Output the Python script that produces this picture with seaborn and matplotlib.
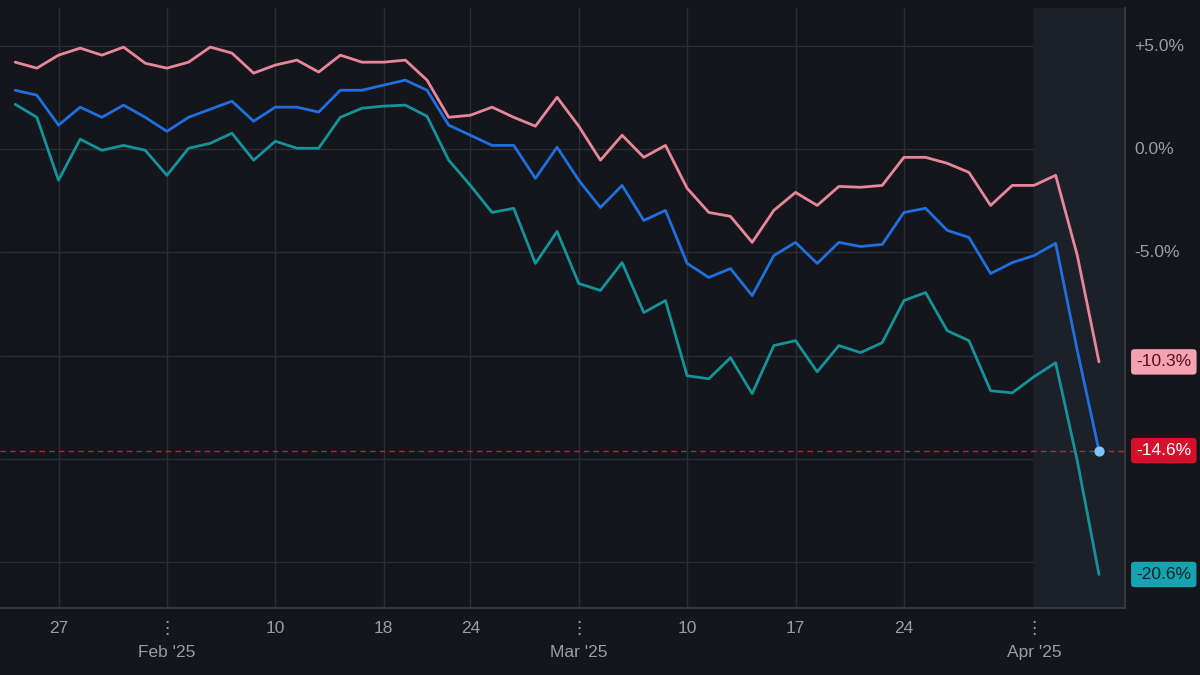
import numpy as np
import pandas as pd
import matplotlib
matplotlib.use("Agg")
import matplotlib.pyplot as plt
import seaborn as sns

# percent change values, one per trading day
pink = [62, 68, 55, 48, 55, 47, 63, 68, 62, 47, 53, 73, 65, 60, 72, 55, 62, 62, 60, 80,
        117, 115, 107, 117, 126, 97, 126, 160, 135, 157, 145, 188, 212, 216, 242, 210, 192, 205, 186, 187,
        185, 157, 157, 163, 172, 205, 185, 185, 175, 255, 360]
blue = [90, 95, 125, 107, 117, 105, 117, 131, 117, 109, 101, 121, 107, 107, 112, 90, 90, 85, 80, 90,
        125, 135, 145, 145, 178, 147, 180, 207, 185, 220, 210, 263, 277, 268, 295, 255, 242, 263, 242, 246,
        244, 212, 208, 230, 237, 273, 262, 255, 243, 350, 449]
teal = [104, 117, 180, 139, 150, 145, 150, 175, 148, 143, 133, 160, 141, 148, 148, 117, 108, 106, 105, 116,
        160, 185, 212, 208, 263, 231, 283, 290, 262, 312, 300, 375, 378, 357, 393, 345, 340, 371, 345, 352,
        342, 300, 292, 330, 340, 390, 392, 376, 362, 460, 570]
# pixel readings -> percent
pink = [round((149 - v) / 20.6, 2) for v in pink]
blue = [round((149 - v) / 20.6, 2) for v in blue]
teal = [round((149 - v) / 20.6, 2) for v in teal]
pink[-1], blue[-1], teal[-1] = -10.3, -14.6, -20.6

day_pos = [2, 7, 12, 17, 21, 26, 31, 36, 41, 47]
day_labels = ["27", "⋮", "10", "18", "24", "⋮", "10", "17", "24", "⋮"]
month_pos = [7, 26, 47]
month_labels = ["Feb '25", "Mar '25", "Apr '25"]
grid_y = [5, 0, -5, -10, -15, -20]
y_ticks = [5, 0, -5]
y_labels = ["+5.0%", "0.0%", "-5.0%"]

df = pd.DataFrame({"day": range(len(pink)), "pink": pink, "blue": blue, "teal": teal})
long = df.melt(id_vars="day", var_name="series", value_name="pct")

bg = "#14161b"
grid = "#2b2e35"
sns.set_theme(style="dark")
plt.rcParams["font.family"] = ["Liberation Sans", "DejaVu Sans"]

fig = plt.figure(figsize=(12, 6.75), dpi=100, facecolor=bg)
ax = fig.add_axes([0, 0.1, 0.9375, 0.888])
ax.set_facecolor(bg)

palette = {"pink": "#e8879a", "blue": "#1f6fe0", "teal": "#14939b"}
sns.lineplot(data=long, x="day", y="pct", hue="series", palette=palette,
             linewidth=2, legend=False, ax=ax)

ax.set_xlim(-0.7, 51.2)
ax.set_ylim(-22.2, 6.84)
for y in grid_y:
    ax.axhline(y, color=grid, lw=1, zorder=0)
for x in day_pos:
    ax.axvline(x, color=grid, lw=1, zorder=0)
ax.axvspan(47, 51.2, color="#1c2129", zorder=0)
ax.axhline(-14.6, color="#b0283a", lw=1, ls=(0, (4, 3)), zorder=1)
ax.scatter([len(blue) - 1], [blue[-1]], s=40, color="#7cc4ff", zorder=5)

ax.set_xticks([])
ax.set_yticks([])
ax.set_xlabel("")
ax.set_ylabel("")
for s in ["top", "left"]:
    ax.spines[s].set_visible(False)
for s in ["right", "bottom"]:
    ax.spines[s].set_color("#3a3d44")

for y, lab in zip(y_ticks, y_labels):
    ax.text(1.008, y, lab, transform=ax.get_yaxis_transform(), color="#9a9da4",
            fontsize=12.5, va="center", ha="left")
for x, lab in zip(day_pos, day_labels):
    ax.text(x, -0.035, lab, transform=ax.get_xaxis_transform(), color="#9a9da4",
            fontsize=12.5, ha="center", va="center")
for x, lab in zip(month_pos, month_labels):
    ax.text(x, -0.075, lab, transform=ax.get_xaxis_transform(), color="#9a9da4",
            fontsize=12.5, ha="center", va="center")

badges = [(pink[-1], "#f4a3b3", "#5a0d1a"), (blue[-1], "#d4102b", "white"), (teal[-1], "#16a2ae", "#08262a")]
for val, fc, tc in badges:
    ax.text(1.01, val, f"{val:.1f}%", transform=ax.get_yaxis_transform(), color=tc,
            fontsize=12.5, va="center", ha="left",
            bbox=dict(boxstyle="round,pad=0.3,rounding_size=0.2", fc=fc, ec="none"))

fig.savefig("out.png", dpi=100, facecolor=bg)
